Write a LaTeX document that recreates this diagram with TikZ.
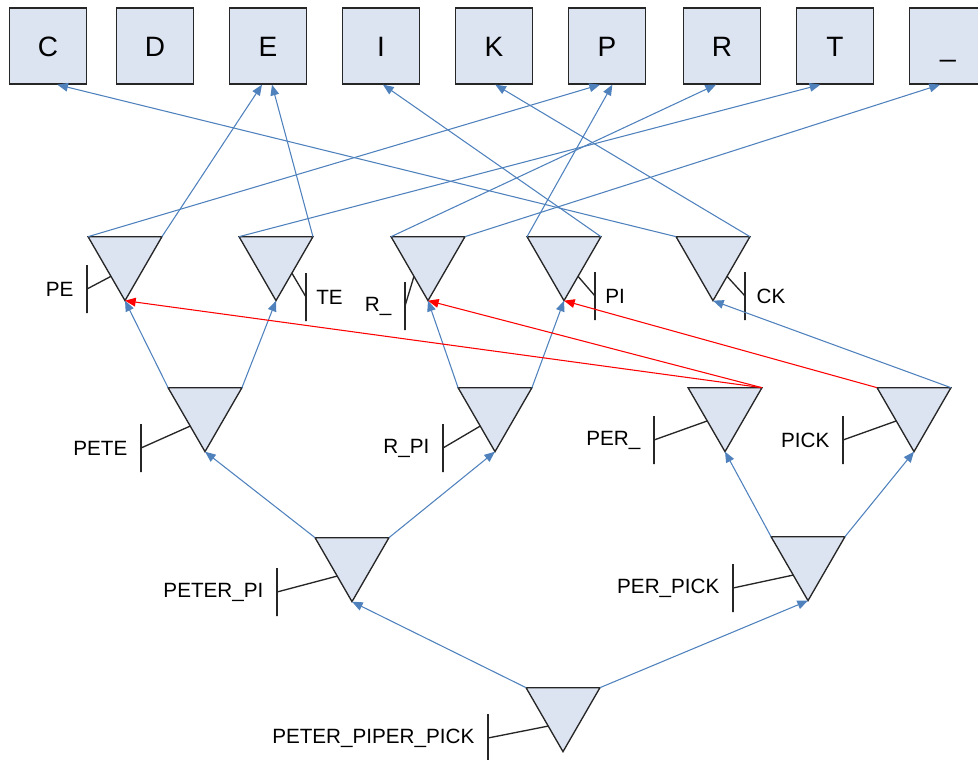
\documentclass[tikz,border=0pt]{standalone}
\usepackage{fontspec}
\setmainfont{Liberation Sans}
\usetikzlibrary{shapes.geometric,arrows.meta,positioning,calc}

\definecolor{linkblue}{HTML}{4F81BD}
\definecolor{gatefill}{HTML}{DCE3F1}
\definecolor{outline}{HTML}{262626}

\begin{document}
\begin{tikzpicture}[
    x=0.75pt, y=-0.75pt,
    letterbox/.style={rectangle, draw=outline, fill=gatefill, line width=1pt, minimum width=57.75pt, minimum height=57pt, inner sep=0pt, text height=15pt, text depth=0pt, font=\fontsize{21}{25}\selectfont},
    gate/.style={regular polygon, regular polygon sides=3, shape border rotate=180, draw=outline, fill=gatefill, line width=1pt, minimum size=64pt, inner sep=0pt, outer sep=0pt},
    labelbar/.style={rectangle, draw=outline, line width=1pt, minimum width=0pt, minimum height=36pt, inner sep=0pt, outer sep=0pt},
    lead/.style={draw=outline, line width=1pt},
    gatelabel/.style={inner sep=0pt, font=\fontsize{15.5}{18}\selectfont},
    arrow/.style={-{Triangle[length=8pt, width=6.5pt]}, line width=0.8pt, draw=linkblue},
    redarrow/.style={arrow, draw=red}
]
    \useasboundingbox (0,0) rectangle (978,760);

    % letter boxes
    \foreach \name/\letter/\px in {c/C/48, d/D/155, e/E/268, i/I/381, k/K/494, p/P/607, r/R/722, t/T/835, us/\_/948}
        \node [letterbox] (\name) at (\px,46) {\letter};

    % gates
    \node [gate] (pe) at (125,258) {};
    \node [gate] (te) at (276,258) {};
    \node [gate] (ru) at (428,258) {};
    \node [gate] (pi) at (564,258) {};
    \node [gate] (ck) at (713,258) {};
    \node [gate] (pete) at (205,409) {};
    \node [gate] (rupi) at (495,409) {};
    \node [gate] (peru) at (725,409) {};
    \node [gate] (pick) at (914,409) {};
    \node [gate] (peterpi) at (352,559) {};
    \node [gate] (perpick) at (808,558) {};
    \node [gate] (ppp) at (563,709) {};

    % label bars
    \node [labelbar] (pebar) at (87,289) {};
    \node [labelbar] (tebar) at (306,297) {};
    \node [labelbar] (rubar) at (405,306) {};
    \node [labelbar] (pibar) at (595,296) {};
    \node [labelbar] (ckbar) at (745,296) {};
    \node [labelbar] (petebar) at (141,448) {};
    \node [labelbar] (rupibar) at (443,448) {};
    \node [labelbar] (perubar) at (654,440) {};
    \node [labelbar] (pickbar) at (843,440) {};
    \node [labelbar] (peterpibar) at (277,592) {};
    \node [labelbar] (perpickbar) at (733,588) {};
    \node [labelbar] (pppbar) at (488,738) {};

    \node [gatelabel, left=10pt of pebar] (pelabel) {PE};
    \node [gatelabel, right=7.5pt of tebar] (telabel) {TE};
    \node [gatelabel, left=10pt of rubar] (rulabel) {R\_};
    \node [gatelabel, right=7.5pt of pibar] (pilabel) {PI};
    \node [gatelabel, right=8.5pt of ckbar] (cklabel) {CK};
    \node [gatelabel, left=10pt of petebar] (petelabel) {PETE};
    \node [gatelabel, left=10pt of rupibar] (rupilabel) {R\_PI};
    \node [gatelabel, left=10pt of perubar] (perulabel) {PER\_};
    \node [gatelabel, left=10pt of pickbar] (picklabel) {PICK};
    \node [gatelabel, left=10pt of peterpibar] (peterpilabel) {PETER\_PI};
    \node [gatelabel, left=10pt of perpickbar] (perpicklabel) {PER\_PICK};
    \node [gatelabel, left=10pt of pppbar] (ppplabel) {PETER\_PIPER\_PICK};

    \draw [lead] ($(pe.corner 3)!.62!(pe.corner 1)$) -- (pebar);
    \draw [lead] ($(te.corner 2)!.57!(te.corner 1)$) -- (tebar);
    \draw [lead] ($(ru.corner 3)!.62!(ru.corner 1)$) -- (rubar);
    \draw [lead] ($(pi.corner 2)!.62!(pi.corner 1)$) -- (pibar);
    \draw [lead] ($(ck.corner 2)!.62!(ck.corner 1)$) -- (ckbar);
    \draw [lead] ($(pete.corner 3)!.6!(pete.corner 1)$) -- (petebar);
    \draw [lead] ($(rupi.corner 3)!.6!(rupi.corner 1)$) -- (rupibar);
    \draw [lead] ($(peru.corner 3)!.52!(peru.corner 1)$) -- (perubar);
    \draw [lead] ($(pick.corner 3)!.52!(pick.corner 1)$) -- (pickbar);
    \draw [lead] ($(peterpi.corner 3)!.6!(peterpi.corner 1)$) -- (peterpibar);
    \draw [lead] ($(perpick.corner 3)!.6!(perpick.corner 1)$) -- (perpickbar);
    \draw [lead] ($(ppp.corner 3)!.6!(ppp.corner 1)$) -- (pppbar);

    % links between gates
    \draw [arrow] (ppp.corner 3) -- (peterpi.corner 1);
    \draw [arrow] (ppp.corner 2) -- (perpick.corner 1);
    \draw [arrow] (peterpi.corner 3) -- (pete.corner 1);
    \draw [arrow] (peterpi.corner 2) -- (rupi.corner 1);
    \draw [arrow] (perpick.corner 3) -- (peru.corner 1);
    \draw [arrow] (perpick.corner 2) -- (pick.corner 1);
    \draw [arrow] (pete.corner 3) -- (pe.corner 1);
    \draw [arrow] (pete.corner 2) -- (te.corner 1);
    \draw [arrow] (rupi.corner 3) -- (ru.corner 1);
    \draw [arrow] (rupi.corner 2) -- (pi.corner 1);
    \draw [redarrow] (peru.corner 2) -- (pe.corner 1);
    \draw [redarrow] (peru.corner 2) -- (ru.corner 1);
    \draw [redarrow] (pick.corner 3) -- (pi.corner 1);
    \draw [arrow] (pick.corner 2) -- (ck.corner 1);

    % links to letters
    \draw [arrow] (pe.corner 3) -- ([xshift=-5.25pt]p.south);
    \draw [arrow] (pe.corner 2) -- ([xshift=-4.5pt]e.south);
    \draw [arrow] (te.corner 3) -- ([xshift=-11pt]t.south);
    \draw [arrow] (te.corner 2) -- ([xshift=3pt]e.south);
    \draw [arrow] (ru.corner 3) -- ([xshift=-4.5pt]r.south);
    \draw [arrow] (ru.corner 2) -- ([xshift=-6pt]us.south);
    \draw [arrow] (pi.corner 3) -- ([xshift=4pt]p.south);
    \draw [arrow] (pi.corner 2) -- ([xshift=1.5pt]i.south);
    \draw [arrow] (ck.corner 3) -- ([xshift=7pt]c.south);
    \draw [arrow] (ck.corner 2) -- ([xshift=1pt]k.south);
\end{tikzpicture}
\end{document}
